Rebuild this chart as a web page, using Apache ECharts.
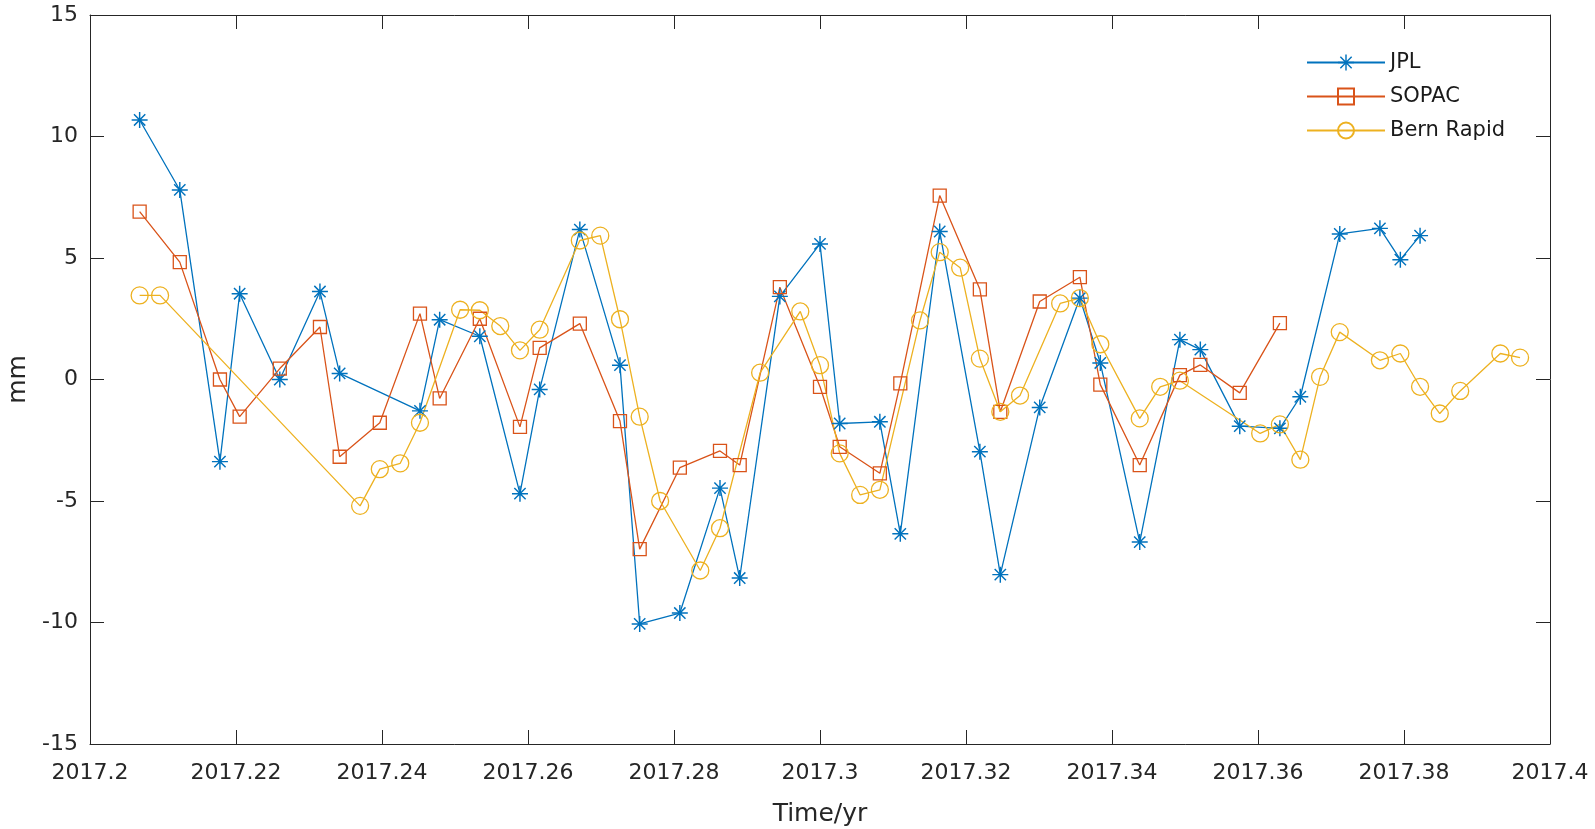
<!DOCTYPE html>
<html>
<head>
<meta charset="utf-8">
<script src="https://cdn.jsdelivr.net/npm/echarts@6/dist/echarts.min.js"></script>
<style>
  html, body { margin: 0; padding: 0; background: #fff; }
  #chart { width: 1595px; height: 829px; }
</style>
</head>
<body>
<div id="chart"></div>
<script>
// time in decimal years, values in mm
const jplTime = [2017.2068, 2017.2123, 2017.2178, 2017.2205, 2017.2260, 2017.2315, 2017.2342, 2017.2452, 2017.2479, 2017.2534,
  2017.2589, 2017.2616, 2017.2671, 2017.2726, 2017.2753, 2017.2808, 2017.2863, 2017.2890, 2017.2945, 2017.3000,
  2017.3027, 2017.3082, 2017.3110, 2017.3164, 2017.3219, 2017.3247, 2017.3301, 2017.3356, 2017.3384, 2017.3438,
  2017.3493, 2017.3521, 2017.3575, 2017.3630, 2017.3658, 2017.3712, 2017.3767, 2017.3795, 2017.3822];
const jplVal = [10.68, 7.8, -3.38, 3.53, 0.0, 3.62, 0.25, -1.29, 2.46, 1.78,
  -4.7, -0.41, 6.17, 0.59, -10.06, -9.61, -4.47, -8.17, 3.42, 5.58,
  -1.81, -1.74, -6.35, 6.09, -2.97, -8.03, -1.15, 3.35, 0.68, -6.69,
  1.64, 1.23, -1.92, -2.01, -0.71, 5.99, 6.22, 4.93, 5.92];

const sopacTime = [2017.2068, 2017.2123, 2017.2178, 2017.2205, 2017.2260, 2017.2315, 2017.2342, 2017.2397, 2017.2452, 2017.2479,
  2017.2534, 2017.2589, 2017.2616, 2017.2671, 2017.2726, 2017.2753, 2017.2808, 2017.2863, 2017.2890, 2017.2945,
  2017.3000, 2017.3027, 2017.3082, 2017.3110, 2017.3164, 2017.3219, 2017.3247, 2017.3301, 2017.3356, 2017.3384,
  2017.3438, 2017.3493, 2017.3521, 2017.3575, 2017.3630];
const sopacVal = [6.91, 4.83, 0.0, -1.53, 0.45, 2.16, -3.18, -1.78, 2.71, -0.78,
  2.5, -1.95, 1.30, 2.30, -1.71, -6.98, -3.63, -2.94, -3.52, 3.80,
  -0.30, -2.77, -3.86, -0.16, 7.57, 3.71, -1.33, 3.21, 4.21, -0.21,
  -3.52, 0.18, 0.60, -0.55, 2.32];

const bernTime = [2017.2068, 2017.2096, 2017.2370, 2017.2397, 2017.2425, 2017.2452, 2017.2507, 2017.2534, 2017.2562, 2017.2589,
  2017.2616, 2017.2671, 2017.2699, 2017.2726, 2017.2753, 2017.2781, 2017.2836, 2017.2863, 2017.2918, 2017.2973,
  2017.3000, 2017.3027, 2017.3055, 2017.3082, 2017.3137, 2017.3164, 2017.3192, 2017.3219, 2017.3247, 2017.3274,
  2017.3329, 2017.3356, 2017.3384, 2017.3438, 2017.3466, 2017.3493, 2017.3603, 2017.3630, 2017.3658, 2017.3685,
  2017.3712, 2017.3767, 2017.3795, 2017.3822, 2017.3849, 2017.3877, 2017.3932, 2017.3959];
const bernVal = [3.46, 3.46, -5.2, -3.69, -3.45, -1.78, 2.87, 2.85, 2.2, 1.2,
  2.05, 5.72, 5.92, 2.48, -1.53, -5.0, -7.86, -6.12, 0.28, 2.8,
  0.59, -3.04, -4.75, -4.54, 2.43, 5.24, 4.6, 0.86, -1.33, -0.66,
  3.13, 3.35, 1.45, -1.6, -0.3, -0.05, -2.22, -1.85, -3.3, 0.11,
  1.95, 0.79, 1.07, -0.3, -1.4, -0.47, 1.07, 0.9];

const seriesNames = ['JPL', 'SOPAC', 'Bern Rapid'];
const yTicks = [-15, -10, -5, 0, 5, 10, 15];

// matlab-like '*' marker
const starPath = 'path://M9.1,0h1.8v20h-1.8z M0,9.1h20v1.8h-20z ' +
  'M3.57,2.3L17.7,16.43L16.43,17.7L2.3,3.57z M16.43,2.3L17.7,3.57L3.57,17.7L2.3,16.43z';

const axisColor = '#262626';
const font = 'DejaVu Sans';

const pairs = (t, v) => t.map((x, i) => [x, v[i]]);

const chart = echarts.init(document.getElementById('chart'));

const baseX = {
  type: 'value', min: 2017.2, max: 2017.4, interval: 0.02,
  axisLine: { onZero: false, lineStyle: { color: axisColor, width: 1 } },
  axisTick: { inside: true, length: 14, lineStyle: { color: axisColor, width: 1 } },
  splitLine: { show: false }
};
const baseY = {
  type: 'value', min: yTicks[0], max: yTicks[yTicks.length - 1], interval: 5,
  axisLine: { onZero: false, lineStyle: { color: axisColor, width: 1 } },
  axisTick: { inside: true, length: 14, lineStyle: { color: axisColor, width: 1 } },
  splitLine: { show: false }
};

const option = {
  animation: false,
  backgroundColor: '#fff',
  grid: { left: 90, right: 45, top: 15, bottom: 85, outerBoundsMode: 'none' },
  legend: {
    data: seriesNames,
    orient: 'vertical',
    left: 1301, top: 47,
    itemWidth: 78, itemHeight: 20, itemGap: 13,
    textStyle: { fontFamily: font, fontSize: 21, color: '#1a1a1a' }
  },
  xAxis: [
    Object.assign({}, baseX, {
      position: 'bottom',
      name: 'Time/yr', nameLocation: 'middle', nameGap: 58,
      nameTextStyle: { fontFamily: font, fontSize: 25, color: axisColor },
      axisLabel: {
        margin: 18, fontFamily: font, fontSize: 22, color: axisColor,
        formatter: v => String(+v.toFixed(2))
      }
    }),
    Object.assign({}, baseX, { position: 'top', axisLabel: { show: false } })
  ],
  yAxis: [
    Object.assign({}, baseY, {
      position: 'left',
      name: 'mm', nameLocation: 'middle', nameGap: 56,
      nameTextStyle: { fontFamily: font, fontSize: 25, color: axisColor },
      axisLabel: { margin: 12, fontFamily: font, fontSize: 22, color: axisColor }
    }),
    Object.assign({}, baseY, { position: 'right', axisLabel: { show: false } })
  ],
  series: [
    {
      name: 'JPL', type: 'line', data: pairs(jplTime, jplVal),
      symbol: starPath, symbolSize: 16, showAllSymbol: true,
      lineStyle: { color: '#0072BD', width: 1.3 },
      itemStyle: { color: '#0072BD', borderWidth: 0 }
    },
    {
      name: 'SOPAC', type: 'line', data: pairs(sopacTime, sopacVal),
      symbol: 'rect', symbolSize: 13, showAllSymbol: true,
      lineStyle: { color: '#D95319', width: 1.3 },
      itemStyle: { color: 'rgba(255,255,255,0)', borderColor: '#D95319', borderWidth: 1.3 }
    },
    {
      name: 'Bern Rapid', type: 'line', data: pairs(bernTime, bernVal),
      symbol: 'circle', symbolSize: 17, showAllSymbol: true,
      lineStyle: { color: '#EDB120', width: 1.3 },
      itemStyle: { color: 'rgba(255,255,255,0)', borderColor: '#EDB120', borderWidth: 1.3 }
    }
  ]
};

chart.setOption(option);
</script>
</body>
</html>
